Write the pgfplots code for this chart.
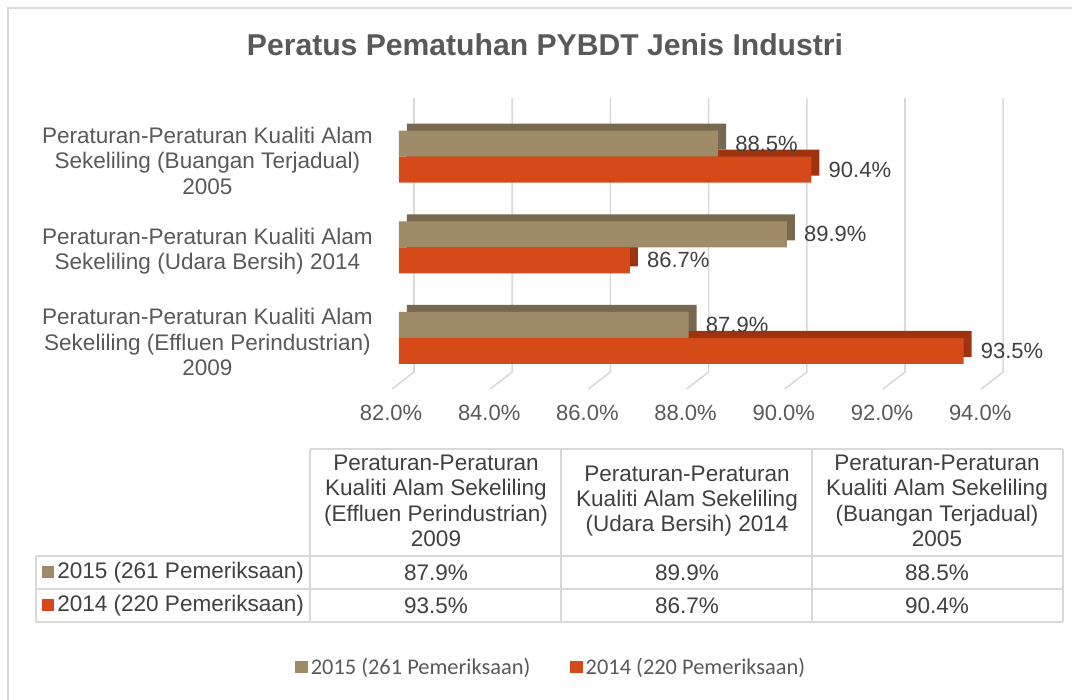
\documentclass[border=0pt]{standalone}
\usepackage{fontspec}
\setmainfont{Liberation Sans}
\newfontfamily\carlito{Carlito}
\usepackage{pgfplots}
\pgfplotsset{compat=1.18}
\definecolor{cA}{HTML}{A08B69}
\definecolor{cAt}{HTML}{786850}
\definecolor{cB}{HTML}{D54A19}
\definecolor{cBt}{HTML}{9E330F}
\definecolor{gridc}{HTML}{D9D9D9}
\definecolor{txt}{HTML}{595959}
\definecolor{lbl}{HTML}{404040}
\pgfdeclarelayer{bg}
\pgfsetlayers{bg,main}
\newcommand\fs{\fontsize{16.5}{19}\selectfont}
\newcommand\fl{\fontsize{16.9}{19}\selectfont}
\begin{document}
\begin{tikzpicture}
\useasboundingbox (0,0) rectangle (804pt,-525pt);
\begin{axis}[
  at={(299.25pt,-291.75pt)}, anchor=south west,
  scale only axis, width=441.9pt, height=215pt,
  xmin=82, xmax=94, ymin=-0.563, ymax=2.6,
  axis line style={draw=none},
  major tick length=0pt,
  xtick={82,84,86,88,90,92,94},
  xticklabel={\pgfmathprintnumber[fixed,precision=1,fixed zerofill]{\tick}\%},
  /pgf/number format/assume math mode=true,
  xticklabel style={font=\fs, text=txt, anchor=center, yshift=-18pt, xshift=-6pt},
  ytick={0,1,2},
  yticklabels={{Peraturan-Peraturan Kualiti Alam\\Sekeliling (Effluen Perindustrian)\\2009},{Peraturan-Peraturan Kualiti Alam\\Sekeliling (Udara Bersih) 2014},{Peraturan-Peraturan Kualiti Alam\\Sekeliling (Buangan Terjadual)\\2005}},
  yticklabel style={font=\fl, text=txt, align=center, anchor=east, inner sep=0pt, xshift=-19.5pt, yshift=-3pt},
  xbar, bar width=19.5pt,
  legend image code/.code={\fill[#1,draw=none] (0pt,-4.8pt) rectangle (9.6pt,4.8pt);},
  legend style={draw=none, fill=none, at={(0.259,-0.97)}, anchor=center, legend columns=2,
    font=\carlito\fontsize{16.8}{20}\selectfont, text=txt,
    /tikz/every even column/.append style={column sep=28pt}},
  every node near coord/.append style={font=\fs, text=lbl, anchor=west, inner sep=0pt, xshift=12.75pt},
]
\pgfplotsinvokeforeach{82,84,86,88,90,92,94}{\coordinate (g#1) at (axis cs:#1,-0.563);}
% depth (3D) faces
\addplot[xbar, bar width=19.5pt, bar shift=-9.75pt, fill=cBt, draw=none, xshift=6pt, yshift=5.25pt, forget plot]
  coordinates {(93.5,0) (86.7,1) (90.4,2)};
\addplot[xbar, bar width=19.5pt, bar shift=9.75pt, fill=cAt, draw=none, xshift=6pt, yshift=5.25pt, forget plot]
  coordinates {(87.9,0) (89.9,1) (88.5,2)};
% front faces
\addplot[xbar, bar width=19.5pt, bar shift=9.75pt, fill=cA, draw=none, point meta=x,
  nodes near coords={\pgfmathprintnumber[fixed,precision=1,fixed zerofill]{\pgfplotspointmeta}\%}]
  coordinates {(87.9,0) (89.9,1) (88.5,2)};
\addplot[xbar, bar width=19.5pt, bar shift=-9.75pt, fill=cB, draw=none, point meta=x,
  nodes near coords={\pgfmathprintnumber[fixed,precision=1,fixed zerofill]{\pgfplotspointmeta}\%}]
  coordinates {(93.5,0) (86.7,1) (90.4,2)};
\legend{2015 (261 Pemeriksaan), 2014 (220 Pemeriksaan)}
\end{axis}
\begin{pgfonlayer}{bg}
\foreach \v in {82,84,86,88,90,92,94}
  \draw[gridc, line width=1.2pt] ([xshift=-5.25pt]g\v) -- ([xshift=11.25pt,yshift=12.75pt]g\v) -- ([xshift=11.25pt,yshift=218.25pt]g\v);
\end{pgfonlayer}
\begin{scope}[x=0.75pt,y=-0.75pt]
  \draw[gridc, line width=1.5pt] (8,7.5) rectangle (1090,715);
  \node[font=\bfseries\fontsize{22.6}{27}\selectfont, text=txt] at (545,45) {Peratus Pematuhan PYBDT Jenis Industri};
  % table
  \begin{scope}[gridc, line width=1.2pt]
    \draw (310,449) -- (1063,449);
    \draw (36,556) -- (1063,556);
    \draw (36,589) -- (1063,589);
    \draw (36,622) -- (1063,622);
    \draw (36,556) -- (36,622);
    \foreach \xx in {310,561,812,1063} \draw (\xx,449) -- (\xx,622);
  \end{scope}
  \node[align=center, font=\fl, text=lbl] at (436,501) {Peraturan-Peraturan\\Kualiti Alam Sekeliling\\(Effluen Perindustrian)\\2009};
  \node[align=center, font=\fl, text=lbl] at (687,501) {Peraturan-Peraturan\\Kualiti Alam Sekeliling\\(Udara Bersih) 2014};
  \node[align=center, font=\fl, text=lbl] at (937,501) {Peraturan-Peraturan\\Kualiti Alam Sekeliling\\(Buangan Terjadual)\\2005};
  \fill[cA] (42,566) rectangle (54,578);
  \node[anchor=west, font=\fl, text=lbl, inner sep=0pt] at (57,572.5) {2015 (261 Pemeriksaan)};
  \fill[cB] (42,599) rectangle (54,611);
  \node[anchor=west, font=\fl, text=lbl, inner sep=0pt] at (57,605.5) {2014 (220 Pemeriksaan)};
  \node[font=\fl, text=lbl] at (436,572.5) {87.9\%};
  \node[font=\fl, text=lbl] at (687,572.5) {89.9\%};
  \node[font=\fl, text=lbl] at (937,572.5) {88.5\%};
  \node[font=\fl, text=lbl] at (436,605.5) {93.5\%};
  \node[font=\fl, text=lbl] at (687,605.5) {86.7\%};
  \node[font=\fl, text=lbl] at (937,605.5) {90.4\%};
\end{scope}
\end{tikzpicture}
\end{document}
